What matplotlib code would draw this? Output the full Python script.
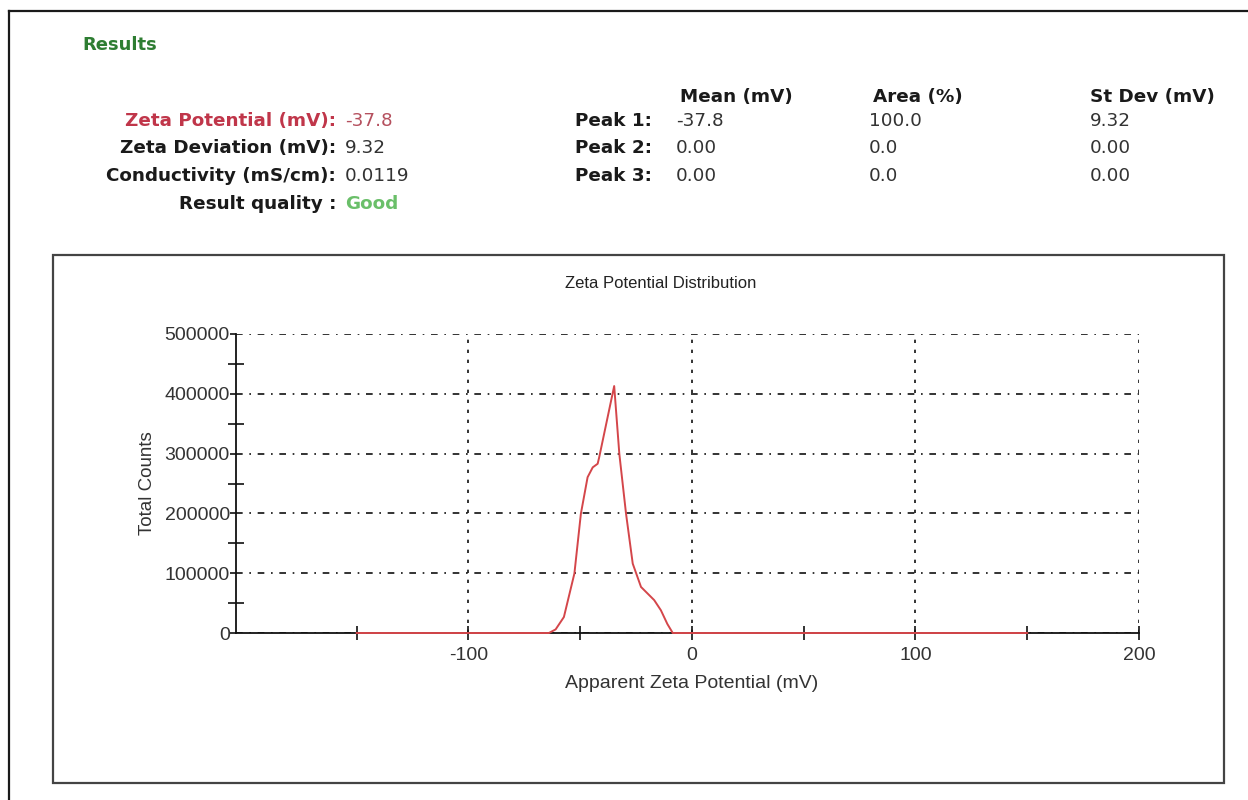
import matplotlib
matplotlib.use("Agg")
import matplotlib.pyplot as plt
from matplotlib.lines import Line2D
from matplotlib.patches import Rectangle
from matplotlib.ticker import MultipleLocator, FixedLocator, NullFormatter

plt.rcParams["axes.unicode_minus"] = False

# ---- data ----
zeta_mv = [-150, -64, -61, -57.3, -52.6, -49.7, -46.7, -44.4, -42.2, -41.5, -34.8,
           -32.5, -29.5, -26.5, -22.8, -16.9, -13.9, -11, -8.6, 150]
total_counts = [0, 0, 6000, 26700, 99500, 199500, 260500, 277000, 283000, 294000, 413000,
                299500, 199500, 116000, 77000, 55000, 38000, 15000, 0, 0]

summary_labels = ["Zeta Potential (mV):", "Zeta Deviation (mV):", "Conductivity (mS/cm):", "Result quality :"]
summary_values = ["-37.8", "9.32", "0.0119", "Good"]

peak_names = ["Peak 1:", "Peak 2:", "Peak 3:"]
peak_mean = ["-37.8", "0.00", "0.00"]
peak_area = ["100.0", "0.0", "0.0"]
peak_sd = ["9.32", "0.00", "0.00"]
col_headers = ["Mean (mV)", "Area (%)", "St Dev (mV)"]

W, H = 1248, 800
fig = plt.figure(figsize=(W / 100, H / 100), dpi=100)
fig.patch.set_facecolor("white")


def px(x, y):
    # pixel coords (top-left origin) -> figure fraction
    return x / W, 1 - y / H


top_font = "DejaVu Sans"
chart_font = "Liberation Sans"
fs_top = 13.2

# outer frame (cut by the image edges)
fig.add_artist(Line2D([9 / W, 1], [1 - 11 / H, 1 - 11 / H], transform=fig.transFigure, color="#1a1a1a", lw=1.6))
fig.add_artist(Line2D([9 / W, 9 / W], [0, 1 - 11 / H], transform=fig.transFigure, color="#1a1a1a", lw=1.6))

# results block
fig.text(*px(82, 45), "Results", color="#2e7d32", fontsize=13, fontweight="bold",
         family=top_font, va="center", ha="left")

rows_y = [121, 148, 176, 204]
label_colors = ["#c0364a", "#1a1a1a", "#1a1a1a", "#1a1a1a"]
value_colors = ["#b5505e", "#333333", "#333333", "#6abf69"]
for i in range(len(summary_labels)):
    fig.text(*px(336, rows_y[i]), summary_labels[i], color=label_colors[i], fontsize=fs_top,
             fontweight="bold", family=top_font, va="center", ha="right")
    fig.text(*px(345, rows_y[i]), summary_values[i], color=value_colors[i], fontsize=fs_top,
             fontweight="bold" if i == 3 else "normal", family=top_font, va="center", ha="left")

header_x = [680, 873, 1090]
for x, h in zip(header_x, col_headers):
    fig.text(*px(x, 97), h, color="#1a1a1a", fontsize=fs_top, fontweight="bold",
             family=top_font, va="center", ha="left")

for i in range(len(peak_names)):
    y = rows_y[i]
    fig.text(*px(652, y), peak_names[i], color="#1a1a1a", fontsize=fs_top, fontweight="bold",
             family=top_font, va="center", ha="right")
    fig.text(*px(676, y), peak_mean[i], color="#333333", fontsize=fs_top, family=top_font, va="center")
    fig.text(*px(869, y), peak_area[i], color="#333333", fontsize=fs_top, family=top_font, va="center")
    fig.text(*px(1090, y), peak_sd[i], color="#333333", fontsize=fs_top, family=top_font, va="center")

# chart frame
x0, y0 = px(53, 783)
x1, y1 = px(1224, 255)
fig.add_artist(Rectangle((x0, y0), x1 - x0, y1 - y0, transform=fig.transFigure,
                         fill=False, edgecolor="#444444", lw=1.6))

# plot area
ax_l, ax_b = px(236, 633)
ax_r, ax_t = px(1139, 334)
ax = fig.add_axes([ax_l, ax_b, ax_r - ax_l, ax_t - ax_b])
ax.plot(zeta_mv, total_counts, color="#d4464a", lw=1.4, zorder=4, clip_on=False)

ax.set_xlim(-204, 200)
ax.set_ylim(0, 500000)

ax.xaxis.set_major_locator(FixedLocator([-100, 0, 100, 200]))
ax.xaxis.set_minor_locator(FixedLocator([-150, -50, 50, 150]))
ax.xaxis.set_minor_formatter(NullFormatter())
ax.yaxis.set_major_locator(MultipleLocator(100000))
ax.yaxis.set_minor_locator(MultipleLocator(50000))
ax.yaxis.set_major_formatter(plt.FuncFormatter(lambda v, p: "%d" % v))

for s in ["top", "right"]:
    ax.spines[s].set_visible(False)
for s in ["left", "bottom"]:
    ax.spines[s].set_color("#111111")
    ax.spines[s].set_linewidth(1.3)

ax.tick_params(axis="x", which="both", direction="inout", length=10, width=1.2, color="#111111",
               labelsize=14, labelcolor="#333333", pad=5)
ax.tick_params(axis="y", which="major", direction="out", length=4, width=1.2, color="#111111",
               labelsize=14, labelcolor="#333333", pad=0.5)
ax.tick_params(axis="y", which="minor", direction="inout", length=12, width=1.2, color="#111111")
for lab in ax.get_xticklabels() + ax.get_yticklabels():
    lab.set_family(chart_font)

ax.grid(True, axis="y", which="major", color="#111111", lw=1.2, linestyle=(0, (4, 4, 1, 4)))
ax.grid(True, axis="x", which="major", color="#111111", lw=1.2, linestyle=(0, (2, 4)))
ax.set_axisbelow(True)

fig.text(*px(661, 283), "Zeta Potential Distribution", fontsize=12, family=chart_font,
         color="#222222", ha="center", va="center")
fig.text(*px(692, 684), "Apparent Zeta Potential (mV)", fontsize=14, family=chart_font,
         color="#333333", ha="center", va="center")
fig.text(*px(148, 483), "Total Counts", fontsize=13.5, family=chart_font, rotation=90,
         color="#333333", ha="center", va="center")

fig.savefig("out.png", dpi=100)
